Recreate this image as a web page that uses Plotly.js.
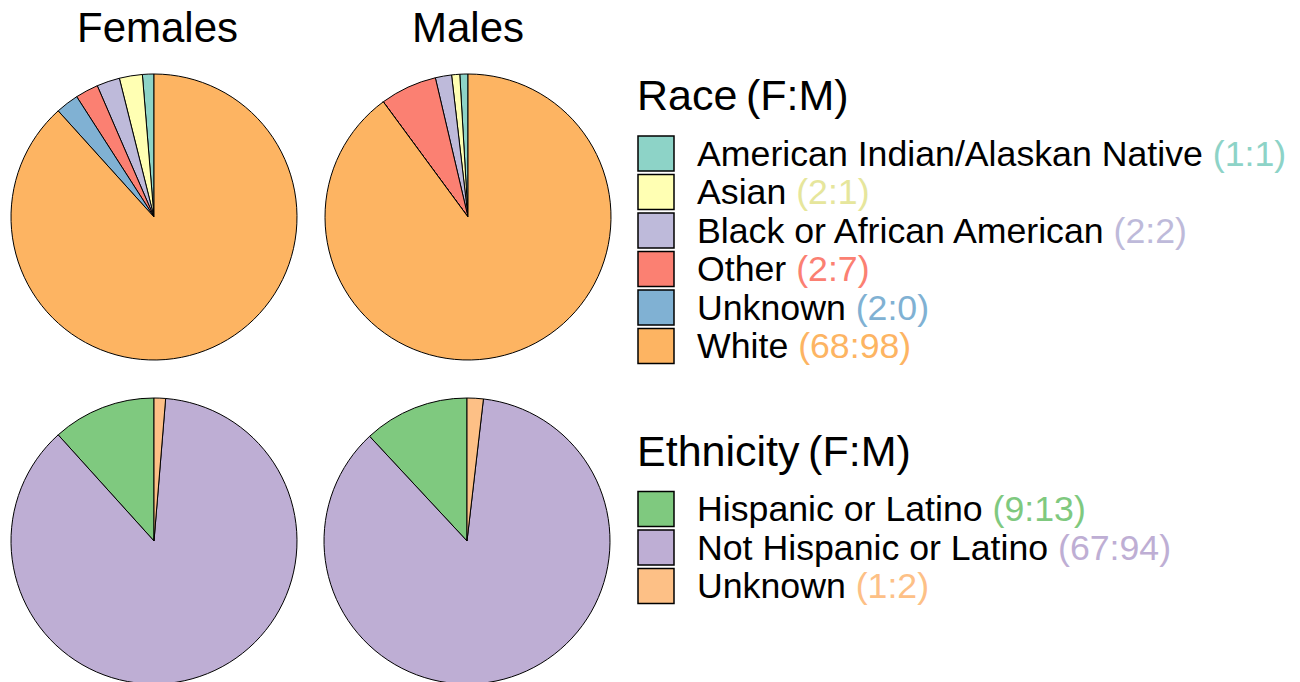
<!DOCTYPE html>
<html>
<head>
<meta charset="utf-8">
<script src="https://cdn.plot.ly/plotly-3.0.1.min.js"></script>
<style>
html,body{margin:0;padding:0;overflow:hidden;background:#fff;}
#chart{width:1300px;height:700px;}
</style>
</head>
<body>
<div id="chart"></div>
<script>
// ---- data ----
const raceLabels = ["American Indian/Alaskan Native", "Asian", "Black or African American", "Other", "Unknown", "White"];
const raceFemales = [1, 2, 2, 2, 2, 68];
const raceMales = [1, 1, 2, 7, 0, 98];
const raceColors = ["#8DD3C7", "#FFFFB3", "#BEBADA", "#FB8072", "#80B1D3", "#FDB462"];
const raceTextColors = ["#8DD3C7", "#E6E69C", "#BEBADA", "#FB8072", "#80B1D3", "#FDB462"];

const ethLabels = ["Hispanic or Latino", "Not Hispanic or Latino", "Unknown"];
const ethFemales = [9, 67, 1];
const ethMales = [13, 94, 2];
const ethColors = ["#7FC97F", "#BEAED4", "#FDC086"];

const panelTitles = ["Females", "Males"];
const legendTitles = ["Race\u2009(F:M)", "Ethnicity\u2009(F:M)"];

// ---- layout helpers (pixel -> paper) ----
const W = 1300, H = 700;
const px = x => x / W;
const py = y => (H - y) / H;
const FONT = "Liberation Sans, Arial, Helvetica, sans-serif";

function pieDomain(cx, cy, r) {
  return {x: [px(cx - r), px(cx + r)], y: [py(cy + r), py(cy - r)]};
}

function pieTrace(labels, values, colors, dom) {
  const total = values.reduce((a, b) => a + b, 0);
  // first slice starts at 12 o'clock and runs counterclockwise
  const rot = -360 * values[0] / total;
  return {
    type: "pie", labels: labels, values: values, sort: false,
    direction: "counterclockwise", rotation: rot,
    marker: {colors: colors, line: {color: "#000", width: 1}},
    textinfo: "none", hoverinfo: "label+value", showlegend: false,
    domain: dom
  };
}

const R = 143;
const data = [
  pieTrace(raceLabels, raceFemales, raceColors, pieDomain(154, 217, R)),
  pieTrace(raceLabels, raceMales, raceColors, pieDomain(468, 217, R)),
  pieTrace(ethLabels, ethFemales, ethColors, pieDomain(154, 541, R)),
  pieTrace(ethLabels, ethMales, ethColors, pieDomain(467, 541, R))
];

const annotations = [];
const shapes = [];

annotations.push({text: panelTitles[0], x: px(157), y: py(27), xref: "paper", yref: "paper",
  xanchor: "center", yanchor: "middle", showarrow: false, font: {family: FONT, size: 42, color: "#000"}});
annotations.push({text: panelTitles[1], x: px(467.5), y: py(27), xref: "paper", yref: "paper",
  xanchor: "center", yanchor: "middle", showarrow: false, font: {family: FONT, size: 42, color: "#000"}});

function legendBlock(title, titleY, labels, colors, textColors, f, m, firstY, step) {
  annotations.push({text: title, x: px(635), y: py(titleY), xref: "paper", yref: "paper",
    xanchor: "left", yanchor: "middle", showarrow: false, font: {family: FONT, size: 43, color: "#000"}});
  labels.forEach((lab, i) => {
    const cy = firstY + i * step;
    shapes.push({type: "rect", xref: "paper", yref: "paper",
      x0: px(638), x1: px(674), y0: py(cy - 17.5), y1: py(cy + 17.5),
      fillcolor: colors[i], line: {color: "#000", width: 1.5}});
    annotations.push({
      text: lab + ' <span style="color:' + textColors[i] + '">(' + f[i] + ':' + m[i] + ')</span>',
      x: px(695), y: py(cy), xref: "paper", yref: "paper",
      xanchor: "left", yanchor: "middle", showarrow: false,
      font: {family: FONT, size: 35.7, color: "#000"}});
  });
}

legendBlock(legendTitles[0], 95, raceLabels, raceColors, raceTextColors, raceFemales, raceMales, 153.6, 38.5);
legendBlock(legendTitles[1], 451, ethLabels, ethColors, ethColors, ethFemales, ethMales, 509, 38.5);

const layout = {
  width: W, height: H,
  margin: {l: 0, r: 0, t: 0, b: 0},
  paper_bgcolor: "#fff", plot_bgcolor: "#fff",
  showlegend: false,
  annotations: annotations,
  shapes: shapes,
  font: {family: FONT}
};

Plotly.newPlot("chart", data, layout, {displayModeBar: false, staticPlot: true});
</script>
</body>
</html>
